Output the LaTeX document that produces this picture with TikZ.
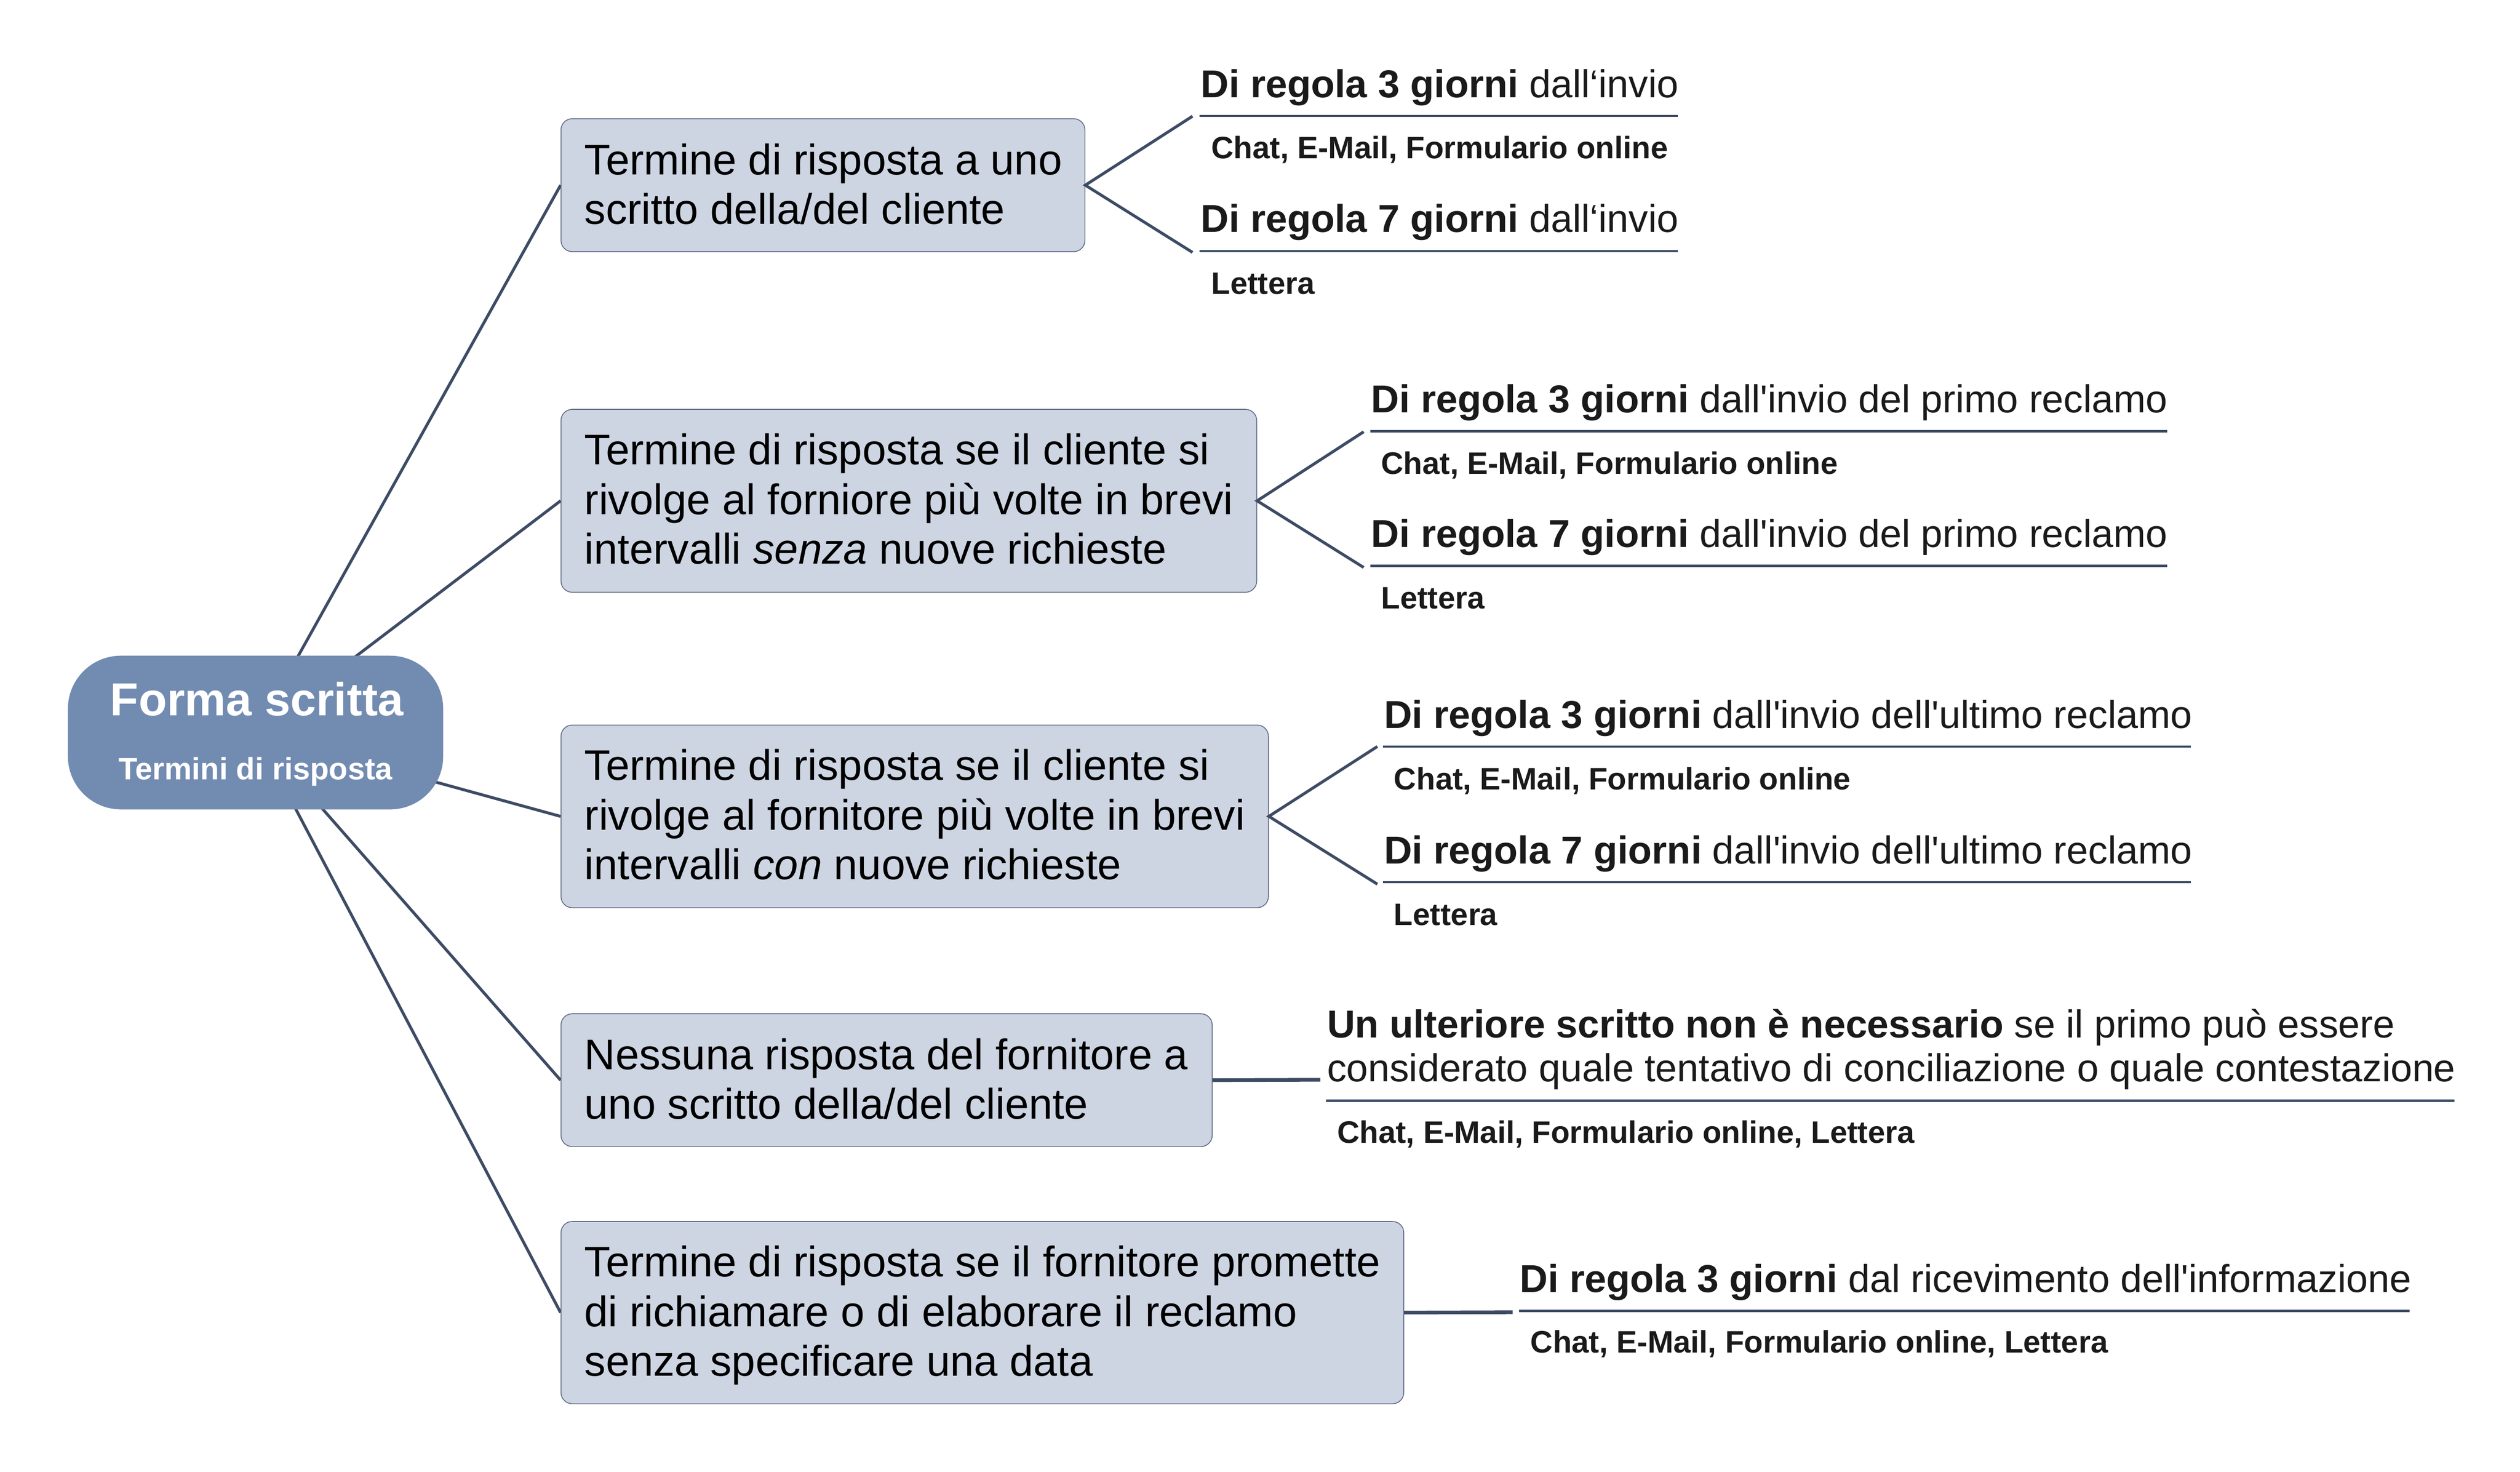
\documentclass[tikz,border=0pt]{standalone}
\usepackage{fontspec}
\newfontfamily\lsans{Liberation Sans}
\pgfdeclarelayer{background}
\pgfsetlayers{background,main}
\definecolor{rootblue}{HTML}{728BB1}
\definecolor{boxfill}{HTML}{CDD4E2}
\definecolor{boxline}{HTML}{5A6780}
\definecolor{lineblue}{HTML}{3D4B64}
\definecolor{txt}{HTML}{1A1A1A}
\tikzset{
  rootbox/.style={rectangle, rounded corners=33pt, fill=rootblue, draw=none,
    minimum width=233.5pt, minimum height=95.6pt, inner sep=0pt},
  roottitle/.style={anchor=base, inner sep=0pt, text=white,
    font=\lsans\bfseries\fontsize{28.8}{33}\selectfont},
  rootsub/.style={anchor=base, inner sep=0pt, text=white,
    font=\lsans\bfseries\fontsize{19.2}{22}\selectfont},
  lbox/.style={rectangle, rounded corners=7pt, fill=boxfill, draw=boxline,
    line width=0.5pt, inner sep=0pt, anchor=north west},
  ltext/.style={anchor=north west, inner sep=0pt, align=left, text=black,
    font=\lsans\fontsize{26.6}{30.9}\selectfont},
  ctitle/.style={anchor=base west, inner sep=0pt, text=txt,
    font=\lsans\fontsize{24.2}{27.4}\selectfont},
  ctitlem/.style={anchor=north west, inner sep=0pt, align=left, text=txt,
    font=\lsans\fontsize{24.2}{27.3}\selectfont},
  csub/.style={anchor=base west, inner sep=0pt, text=txt,
    font=\lsans\bfseries\fontsize{19.3}{22}\selectfont},
  conn/.style={draw=lineblue, line width=1.8pt},
  hconn/.style={draw=lineblue, line width=2.3pt},
  uline/.style={draw=lineblue, line width=1.35pt},
}
\newcommand{\fs}{\rule{0pt}{24pt}}
\begin{document}
\begin{tikzpicture}[x=1pt,y=-1pt]
\useasboundingbox (0,0) rectangle (1568,915.4);

% root
\node[rootbox] (root) at (159,455.7) {};
\node[roottitle] (rootT) at (159.9,445.1) {Forma scritta};
\node[rootsub] (rootS) at (159,485) {Termini di risposta};

% level-1 boxes
\node[lbox, minimum width=326pt, minimum height=82.7pt] (b1) at (348.8,73.6) {};
\node[ltext] (b1t) at (363.5,84.4) {\fs Termine di risposta a uno\\scritto della/del cliente};

\node[lbox, minimum width=432.9pt, minimum height=113.8pt] (b2) at (348.8,254.4) {};
\node[ltext] (b2t) at (363.5,264.8) {\fs Termine di risposta se il cliente si\\rivolge al forniore più volte in brevi\\intervalli \textit{senza} nuove richieste};

\node[lbox, minimum width=440.2pt, minimum height=113.6pt] (b3) at (348.8,450.8) {};
\node[ltext] (b3t) at (363.5,461.2) {\fs Termine di risposta se il cliente si\\rivolge al fornitore più volte in brevi\\intervalli \textit{con} nuove richieste};

\node[lbox, minimum width=405.2pt, minimum height=82.6pt] (b4) at (348.8,630.4) {};
\node[ltext] (b4t) at (363.5,641) {\fs Nessuna risposta del fornitore a\\uno scritto della/del cliente};

\node[lbox, minimum width=524.4pt, minimum height=113.4pt] (b5) at (348.8,759.6) {};
\node[ltext] (b5t) at (363.5,770.1) {\fs Termine di risposta se il fornitore promette\\di richiamare o di elaborare il reclamo\\senza specificare una data};

% level-1 connectors
\begin{pgfonlayer}{background}
\foreach \b in {b1,b2,b3,b4,b5}{\draw[conn] (root.center) -- (\b.west);}
\end{pgfonlayer}

% ---- children of b1
\coordinate (u1s) at (746.5,72.1);  \coordinate (u1e) at (1044.1,72.1);
\coordinate (u2s) at (746.5,156.2); \coordinate (u2e) at (1044.1,156.2);
\coordinate (k1) at (742,72.3); \coordinate (k2) at (742,157);
\draw[uline] (u1s) -- (u1e);
\draw[uline] (u2s) -- (u2e);
\draw[conn] (k1) -- (b1.east) -- (k2);
\node[ctitle] (c1t) at (747,60.6) {\textbf{Di regola 3 giorni} dall‘invio};
\node[csub] (c1s) at (753.5,98.6) {Chat, E-Mail, Formulario online};
\node[ctitle] (c2t) at (747,144.4) {\textbf{Di regola 7 giorni} dall‘invio};
\node[csub] (c2s) at (753.5,182.9) {Lettera};

% ---- children of b2
\coordinate (u3s) at (852.6,268.3); \coordinate (u3e) at (1348.5,268.3);
\coordinate (u4s) at (852.6,352.0); \coordinate (u4e) at (1348.5,352.0);
\coordinate (k3) at (848.5,268.6); \coordinate (k4) at (848.5,353);
\draw[uline] (u3s) -- (u3e);
\draw[uline] (u4s) -- (u4e);
\draw[conn] (k3) -- (b2.east) -- (k4);
\node[ctitle] (c3t) at (853,256.8) {\textbf{Di regola 3 giorni} dall'invio del primo reclamo};
\node[csub] (c3s) at (859.2,295.0) {Chat, E-Mail, Formulario online};
\node[ctitle] (c4t) at (853,340.5) {\textbf{Di regola 7 giorni} dall'invio del primo reclamo};
\node[csub] (c4s) at (859.2,378.7) {Lettera};

% ---- children of b3
\coordinate (u5s) at (860.6,464.4); \coordinate (u5e) at (1363.2,464.4);
\coordinate (u6s) at (860.6,548.9); \coordinate (u6e) at (1363.2,548.9);
\coordinate (k5) at (857,464.4); \coordinate (k6) at (857,550);
\draw[uline] (u5s) -- (u5e);
\draw[uline] (u6s) -- (u6e);
\draw[conn] (k5) -- (b3.east) -- (k6);
\node[ctitle] (c5t) at (861,452.9) {\textbf{Di regola 3 giorni} dall'invio dell'ultimo reclamo};
\node[csub] (c5s) at (867.2,491.1) {Chat, E-Mail, Formulario online};
\node[ctitle] (c6t) at (861,537.4) {\textbf{Di regola 7 giorni} dall'invio dell'ultimo reclamo};
\node[csub] (c6s) at (867.2,575.6) {Lettera};

% ---- child of b4
\coordinate (k7) at (821.5,671.7);
\draw[hconn] (b4.east) -- (k7);
\coordinate (u7s) at (825.2,684.7); \coordinate (u7e) at (1527.3,684.7);
\draw[uline] (u7s) -- (u7e);
\node[ctitlem] (c7t) at (825.5,621.2) {\fs\textbf{Un ulteriore scritto non è necessario} se il primo può essere\\considerato quale tentativo di conciliazione o quale contestazione};
\node[csub] (c7s) at (831.8,711.0) {Chat, E-Mail, Formulario online, Lettera};

% ---- child of b5
\coordinate (k8) at (941.2,816.3);
\draw[hconn] (b5.east) -- (k8);
\coordinate (u8s) at (945.1,815.5); \coordinate (u8e) at (1499.2,815.5);
\draw[uline] (u8s) -- (u8e);
\node[ctitle] (c8t) at (945.5,803.8) {\textbf{Di regola 3 giorni} dal ricevimento dell'informazione};
\node[csub] (c8s) at (952.1,841.6) {Chat, E-Mail, Formulario online, Lettera};
\end{tikzpicture}
\end{document}
